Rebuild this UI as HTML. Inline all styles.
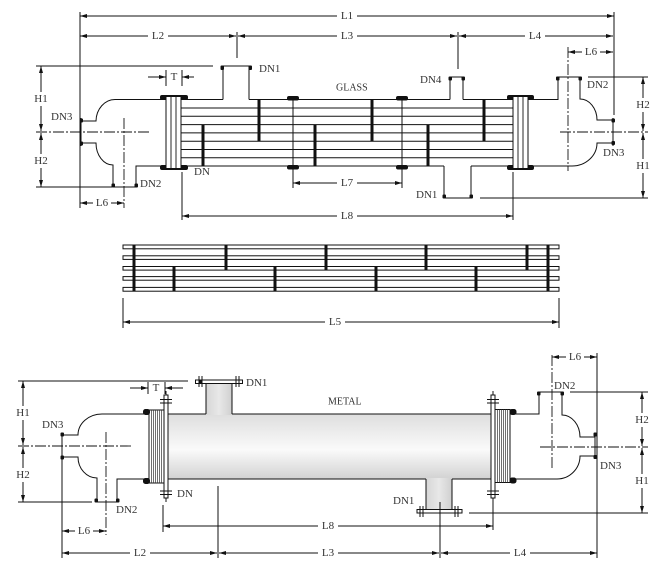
<!DOCTYPE html>
<html><head><meta charset="utf-8"><style>
html,body{margin:0;padding:0;background:#fff;}
svg{display:block;}
text{font-family:"Liberation Serif",serif;font-size:11px;fill:#333;}
</style></head><body>
<svg width="672" height="567" viewBox="0 0 672 567" xmlns="http://www.w3.org/2000/svg">
<defs>
<marker id="a" markerWidth="8" markerHeight="6" refX="7" refY="2" orient="auto-start-reverse" markerUnits="userSpaceOnUse"><path d="M0,0 L7,2 L0,4 z" fill="#111"/></marker>
<linearGradient id="gv" x1="0" y1="0" x2="0" y2="1">
<stop offset="0" stop-color="#dedede"/><stop offset="0.55" stop-color="#fafafa"/><stop offset="1" stop-color="#d2d2d2"/></linearGradient>
<linearGradient id="gh" x1="0" y1="0" x2="1" y2="0">
<stop offset="0" stop-color="#d6d6d6"/><stop offset="0.5" stop-color="#e8e8e8"/><stop offset="1" stop-color="#cfcfcf"/></linearGradient>
</defs>

<!-- ================= TOP VIEW (GLASS) ================= -->
<g stroke="#111" stroke-width="1" fill="none">
  <!-- extension lines -->
  <line x1="80" y1="12" x2="80" y2="208"/>
  <line x1="614" y1="12" x2="614" y2="115"/>
  <line x1="237" y1="32" x2="237" y2="58"/>
  <line x1="458" y1="32" x2="458" y2="69"/>
  <!-- L1 -->
  <line x1="80" y1="16" x2="614" y2="16" marker-start="url(#a)" marker-end="url(#a)"/>
  <!-- L2 L3 L4 -->
  <line x1="80" y1="36" x2="236" y2="36" marker-start="url(#a)" marker-end="url(#a)"/>
  <line x1="238" y1="36" x2="457" y2="36" marker-start="url(#a)" marker-end="url(#a)"/>
  <line x1="459" y1="36" x2="613" y2="36" marker-start="url(#a)" marker-end="url(#a)"/>
  <!-- L6 right -->
  <line x1="568" y1="52" x2="613" y2="52" marker-start="url(#a)" marker-end="url(#a)"/>
  <!-- H left -->
  <line x1="36" y1="66" x2="213" y2="66"/>
  <line x1="36" y1="187" x2="112" y2="187"/>
  <line x1="41" y1="66" x2="41" y2="131" marker-start="url(#a)" marker-end="url(#a)"/>
  <line x1="41" y1="133" x2="41" y2="187" marker-start="url(#a)" marker-end="url(#a)"/>
  <!-- T -->
  <line x1="148" y1="77" x2="166" y2="77" marker-end="url(#a)"/>
  <line x1="194" y1="77" x2="182" y2="77" marker-end="url(#a)"/>
  <line x1="166" y1="70" x2="166" y2="86"/>
  <line x1="182" y1="70" x2="182" y2="86"/>
  <!-- H right -->
  <line x1="588" y1="77" x2="648" y2="77"/>
  <line x1="480" y1="198" x2="648" y2="198"/>
  <line x1="643" y1="77" x2="643" y2="131" marker-start="url(#a)" marker-end="url(#a)"/>
  <line x1="643" y1="133" x2="643" y2="198" marker-start="url(#a)" marker-end="url(#a)"/>
  <!-- L7 -->
  <line x1="293" y1="183" x2="402" y2="183" marker-start="url(#a)" marker-end="url(#a)"/>
  <!-- L8 -->
  <line x1="182" y1="172" x2="182" y2="220"/>
  <line x1="513" y1="172" x2="513" y2="220"/>
  <line x1="182" y1="216" x2="513" y2="216" marker-start="url(#a)" marker-end="url(#a)"/>
  <!-- L6 left -->
  <line x1="80" y1="203" x2="124" y2="203" marker-start="url(#a)" marker-end="url(#a)"/>
  <!-- centerlines -->
  <g stroke-dasharray="11 2 2 2" stroke-width="0.9">
    <line x1="36" y1="132" x2="150" y2="132"/>
    <line x1="124" y1="118" x2="124" y2="208"/>
    <line x1="560" y1="132" x2="648" y2="132"/>
    <line x1="568" y1="47" x2="568" y2="171"/>
  </g>

  <!-- shell -->
  <line x1="181" y1="99.5" x2="223" y2="99.5"/>
  <line x1="249" y1="99.5" x2="450" y2="99.5"/>
  <line x1="463" y1="99.5" x2="513" y2="99.5"/>
  <line x1="181" y1="166" x2="444" y2="166"/>
  <line x1="471" y1="166" x2="513" y2="166"/>
  <!-- DN1 top nozzle -->
  <path d="M223,99.5 V66 H249 V99.5"/>
  <!-- DN4 -->
  <path d="M450,99.5 V77 H463 V99.5"/>
  <!-- DN1 bottom -->
  <path d="M444,166 V198 H471 V166"/>
  <!-- tubes -->
  <g stroke-width="1">
    <line x1="181" y1="108" x2="513" y2="108"/>
    <line x1="181" y1="116.3" x2="513" y2="116.3"/>
    <line x1="181" y1="124.6" x2="513" y2="124.6"/>
    <line x1="181" y1="132.9" x2="513" y2="132.9"/>
    <line x1="181" y1="141.2" x2="513" y2="141.2"/>
    <line x1="181" y1="149.5" x2="513" y2="149.5"/>
    <line x1="181" y1="157.8" x2="513" y2="157.8"/>
  </g>
  <!-- baffles -->
  <g stroke-width="3">
    <line x1="203" y1="124.6" x2="203" y2="166"/>
    <line x1="259" y1="99.5" x2="259" y2="141.2"/>
    <line x1="315" y1="124.6" x2="315" y2="166"/>
    <line x1="372" y1="99.5" x2="372" y2="141.2"/>
    <line x1="428" y1="124.6" x2="428" y2="166"/>
    <line x1="484" y1="99.5" x2="484" y2="141.2"/>
  </g>
  <!-- support rings -->
  <line x1="293" y1="96" x2="293" y2="188"/>
  <line x1="402" y1="96" x2="402" y2="188"/>

  <!-- left head -->
  <path d="M166,99.5 H115 A19,22 0 0 0 96,121 H81"/>
  <line x1="81" y1="118" x2="81" y2="146"/>
  <path d="M81,143 H96 A17,22 0 0 0 113,165 V187 H136 V166 H166"/>
  <!-- right head -->
  <path d="M528,99.5 H558 V77 H580 V99 A17,21 0 0 1 597,120 H613"/>
  <line x1="613" y1="118" x2="613" y2="146"/>
  <path d="M613,143 H597 A25,23 0 0 1 572,166 H528"/>
</g>
<!-- blobs top view -->
<g fill="#111">
  <rect x="287" y="96" width="12" height="4.5" rx="2"/>
  <rect x="287" y="165" width="12" height="4.5" rx="2"/>
  <rect x="396" y="96" width="12" height="4.5" rx="2"/>
  <rect x="396" y="165" width="12" height="4.5" rx="2"/>
  <rect x="160" y="95" width="28" height="5" rx="2"/>
  <rect x="160" y="165" width="28" height="5" rx="2"/>
  <rect x="507" y="95" width="27" height="5" rx="2"/>
  <rect x="507" y="165" width="27" height="5" rx="2"/>
  <rect x="220.5" y="65.5" width="3.5" height="4.5" rx="1"/>
  <rect x="248.5" y="65.5" width="3.5" height="4.5" rx="1"/>
  <rect x="448.5" y="76.5" width="3.5" height="4" rx="1"/>
  <rect x="461.5" y="76.5" width="3.5" height="4" rx="1"/>
  <rect x="442.5" y="194.5" width="3.5" height="4" rx="1"/>
  <rect x="469.5" y="194.5" width="3.5" height="4" rx="1"/>
  <rect x="556" y="76.5" width="3.5" height="4" rx="1"/>
  <rect x="578.5" y="76.5" width="3.5" height="4" rx="1"/>
  <rect x="611.5" y="118.5" width="3.5" height="4" rx="1"/>
  <rect x="611.5" y="141" width="3.5" height="4" rx="1"/>
  <rect x="79.5" y="118.5" width="3.5" height="4" rx="1"/>
  <rect x="79.5" y="141.5" width="3.5" height="4" rx="1"/>
  <rect x="111.5" y="183.5" width="3.5" height="4" rx="1"/>
  <rect x="134.5" y="183.5" width="3.5" height="4" rx="1"/>
</g>
<!-- tubesheets top view -->
<g stroke="#111" stroke-width="1" fill="#fff">
  <rect x="166" y="96.5" width="15" height="72"/>
  <rect x="513" y="96.5" width="15" height="72"/>
</g>
<g stroke="#111" stroke-width="0.9">
  <line x1="171" y1="96.5" x2="171" y2="168.5"/>
  <line x1="176" y1="96.5" x2="176" y2="168.5"/>
  <line x1="518" y1="96.5" x2="518" y2="168.5"/>
  <line x1="523" y1="96.5" x2="523" y2="168.5"/>
</g>

<!-- labels top view (with white gaps) -->
<g fill="#fff">
  <rect x="337" y="10" width="20" height="12"/>
  <rect x="148" y="30" width="20" height="12"/>
  <rect x="337" y="30" width="20" height="12"/>
  <rect x="525" y="30" width="20" height="12"/>
  <rect x="582" y="46" width="18" height="12"/>
  <rect x="93" y="197" width="18" height="12"/>
  <rect x="33" y="92" width="16" height="14"/>
  <rect x="33" y="154" width="16" height="14"/>
  <rect x="635" y="98" width="16" height="14"/>
  <rect x="635" y="159" width="16" height="14"/>
  <rect x="337" y="177" width="20" height="12"/>
  <rect x="337" y="210" width="20" height="12"/>
</g>
<g text-anchor="middle" dominant-baseline="central">
  <text x="347" y="16">L1</text>
  <text x="158" y="36">L2</text>
  <text x="347" y="36">L3</text>
  <text x="535" y="36">L4</text>
  <text x="591" y="52">L6</text>
  <text x="102" y="203">L6</text>
  <text x="41" y="99">H1</text>
  <text x="41" y="161">H2</text>
  <text x="643" y="105">H2</text>
  <text x="643" y="166">H1</text>
  <text x="347" y="183">L7</text>
  <text x="347" y="216">L8</text>
  <text x="174" y="77">T</text>
</g>
<g dominant-baseline="central">
  <text x="259" y="69">DN1</text>
  <text x="51" y="117">DN3</text>
  <text x="140" y="184">DN2</text>
  <text x="194" y="172">DN</text>
  <text x="336" y="88" style="font-size:10px">GLASS</text>
  <text x="420" y="80">DN4</text>
  <text x="587" y="85">DN2</text>
  <text x="603" y="153">DN3</text>
  <text x="416" y="195">DN1</text>
</g>

<!-- ================= BUNDLE ================= -->
<g stroke="#111" stroke-width="1" fill="#fff">
  <rect x="123" y="245" width="436" height="3.8"/>
  <rect x="123" y="255.8" width="436" height="3.6"/>
  <rect x="123" y="266.5" width="436" height="3.6"/>
  <rect x="123" y="276.6" width="436" height="3.6"/>
  <rect x="123" y="287.4" width="436" height="3.8"/>
</g>
<g stroke="#111" stroke-width="3">
  <line x1="226" y1="245" x2="226" y2="270"/>
  <line x1="326" y1="245" x2="326" y2="270"/>
  <line x1="426" y1="245" x2="426" y2="270"/>
  <line x1="527" y1="245" x2="527" y2="270"/>
  <line x1="174" y1="266.5" x2="174" y2="291.2"/>
  <line x1="275" y1="266.5" x2="275" y2="291.2"/>
  <line x1="376" y1="266.5" x2="376" y2="291.2"/>
  <line x1="476" y1="266.5" x2="476" y2="291.2"/>
  <line x1="134" y1="245" x2="134" y2="291.2"/>
  <line x1="548" y1="245" x2="548" y2="291.2"/>
</g>
<g stroke="#111" stroke-width="1">
  <line x1="123" y1="298" x2="123" y2="328"/>
  <line x1="559" y1="298" x2="559" y2="328"/>
  <line x1="123" y1="322" x2="559" y2="322" marker-start="url(#a)" marker-end="url(#a)"/>
</g>
<rect x="325" y="316" width="20" height="12" fill="#fff"/>
<text x="335" y="322" text-anchor="middle" dominant-baseline="central">L5</text>

<!-- ================= BOTTOM VIEW (METAL) ================= -->
<!-- fills -->
<rect x="168" y="414" width="323" height="65" fill="url(#gv)"/>
<rect x="206" y="381" width="26" height="34" fill="url(#gh)"/>
<rect x="426" y="478" width="26" height="35" fill="url(#gh)"/>
<g stroke="#111" stroke-width="1" fill="none">
  <!-- shell outline -->
  <line x1="168" y1="414" x2="206" y2="414"/>
  <line x1="232" y1="414" x2="491" y2="414"/>
  <line x1="168" y1="479" x2="426" y2="479"/>
  <line x1="452" y1="479" x2="491" y2="479"/>
  <line x1="206" y1="381" x2="206" y2="414"/>
  <line x1="232" y1="381" x2="232" y2="414"/>
  <line x1="426" y1="479" x2="426" y2="513"/>
  <line x1="452" y1="479" x2="452" y2="513"/>
  <!-- nozzle flanges -->
  <rect x="195.5" y="380" width="47" height="3.5" fill="#fff"/>
  <rect x="195.5" y="380" width="47" height="3.5"/>
  <rect x="417" y="509.5" width="45" height="3.5" fill="#fff"/>
  <line x1="199" y1="376" x2="199" y2="387"/><line x1="202" y1="376" x2="202" y2="387"/>
  <line x1="236" y1="376" x2="236" y2="387"/><line x1="239" y1="376" x2="239" y2="387"/>
  <line x1="420" y1="506" x2="420" y2="517"/><line x1="423" y1="506" x2="423" y2="517"/>
  <line x1="455" y1="506" x2="455" y2="517"/><line x1="458" y1="506" x2="458" y2="517"/>

  <!-- flange plates -->
  <rect x="164" y="395" width="4" height="103" fill="#fff"/>
  <rect x="491" y="395" width="4" height="103" fill="#fff"/>
  <line x1="160" y1="399.5" x2="172" y2="399.5"/><line x1="160" y1="403" x2="172" y2="403"/>
  <line x1="160" y1="491" x2="172" y2="491"/><line x1="160" y1="494.5" x2="172" y2="494.5"/>
  <line x1="487" y1="399.5" x2="499" y2="399.5"/><line x1="487" y1="403" x2="499" y2="403"/>
  <line x1="487" y1="491" x2="499" y2="491"/><line x1="487" y1="494.5" x2="499" y2="494.5"/>
  <line x1="166" y1="391" x2="166" y2="395"/><line x1="166" y1="498" x2="166" y2="502"/>
  <line x1="493" y1="391" x2="493" y2="395"/><line x1="493" y1="498" x2="493" y2="502"/>

  <!-- tubesheets -->
  <rect x="149" y="410" width="15" height="73" fill="#fff"/>
  <rect x="495" y="409.5" width="15" height="73" fill="#fff"/>

  <!-- left head -->
  <path d="M149,414 H102 A24,21 0 0 0 78,435 H62"/>
  <line x1="62" y1="433" x2="62" y2="459"/>
  <path d="M62,457 H78 A19,21 0 0 0 97,478 V502 H117 V479 H149"/>
  <!-- right head -->
  <path d="M510,414 H539 V392 H562 V415 A18,22 0 0 1 580,437 H595"/>
  <line x1="595" y1="433" x2="595" y2="459"/>
  <path d="M595,456 H580 A23,23 0 0 1 557,479 H510"/>

  <!-- dimension lines -->
  <line x1="18" y1="381" x2="188" y2="381"/>
  <line x1="18" y1="502" x2="92" y2="502"/>
  <line x1="23" y1="381" x2="23" y2="445" marker-start="url(#a)" marker-end="url(#a)"/>
  <line x1="23" y1="447" x2="23" y2="502" marker-start="url(#a)" marker-end="url(#a)"/>
  <!-- T -->
  <line x1="130" y1="388" x2="148" y2="388" marker-end="url(#a)"/>
  <line x1="183" y1="388" x2="165" y2="388" marker-end="url(#a)"/>
  <line x1="148" y1="382" x2="148" y2="394"/>
  <line x1="165" y1="382" x2="165" y2="394"/>
  <!-- H right -->
  <line x1="570" y1="392" x2="648" y2="392"/>
  <line x1="469" y1="513" x2="648" y2="513"/>
  <line x1="642" y1="392" x2="642" y2="446" marker-start="url(#a)" marker-end="url(#a)"/>
  <line x1="642" y1="448" x2="642" y2="513" marker-start="url(#a)" marker-end="url(#a)"/>
  <!-- extensions -->
  <line x1="62" y1="459" x2="62" y2="558"/>
  <line x1="597" y1="353" x2="597" y2="558"/>
  <line x1="163" y1="505" x2="163" y2="532"/>
  <line x1="493" y1="500" x2="493" y2="530"/>
  <line x1="218" y1="486" x2="218" y2="558"/>
  <line x1="440" y1="502" x2="440" y2="558"/>
  <!-- L6 -->
  <line x1="62" y1="531" x2="106" y2="531" marker-start="url(#a)" marker-end="url(#a)"/>
  <line x1="552" y1="357" x2="597" y2="357" marker-start="url(#a)" marker-end="url(#a)"/>
  <!-- L8 -->
  <line x1="163" y1="526" x2="493" y2="526" marker-start="url(#a)" marker-end="url(#a)"/>
  <!-- L2 L3 L4 -->
  <line x1="62" y1="553" x2="217" y2="553" marker-start="url(#a)" marker-end="url(#a)"/>
  <line x1="219" y1="553" x2="439" y2="553" marker-start="url(#a)" marker-end="url(#a)"/>
  <line x1="441" y1="553" x2="597" y2="553" marker-start="url(#a)" marker-end="url(#a)"/>
  <!-- centerlines -->
  <g stroke-dasharray="11 2 2 2" stroke-width="0.9">
    <line x1="18" y1="446" x2="133" y2="446"/>
    <line x1="106" y1="432" x2="106" y2="535"/>
    <line x1="540" y1="447" x2="648" y2="447"/>
    <line x1="552" y1="355" x2="552" y2="468"/>
  </g>
</g>
<!-- hatch lines -->
<g stroke="#333" stroke-width="0.7">
  <line x1="151.5" y1="410" x2="151.5" y2="483"/><line x1="153.5" y1="410" x2="153.5" y2="483"/>
  <line x1="155.5" y1="410" x2="155.5" y2="483"/><line x1="157.5" y1="410" x2="157.5" y2="483"/>
  <line x1="159.5" y1="410" x2="159.5" y2="483"/><line x1="161.5" y1="410" x2="161.5" y2="483"/>
  <line x1="497.5" y1="409.5" x2="497.5" y2="482.5"/><line x1="499.5" y1="409.5" x2="499.5" y2="482.5"/>
  <line x1="501.5" y1="409.5" x2="501.5" y2="482.5"/><line x1="503.5" y1="409.5" x2="503.5" y2="482.5"/>
  <line x1="505.5" y1="409.5" x2="505.5" y2="482.5"/><line x1="507.5" y1="409.5" x2="507.5" y2="482.5"/>
</g>
<rect x="417" y="509.5" width="45" height="3.5" fill="none" stroke="#111" stroke-width="1"/>
<!-- blobs bottom -->
<g fill="#111">
  <rect x="143" y="409" width="7" height="6" rx="2.5"/>
  <rect x="143" y="478" width="7" height="6" rx="2.5"/>
  <rect x="509.5" y="409" width="7" height="6" rx="2.5"/>
  <rect x="509.5" y="477.5" width="7" height="6" rx="2.5"/>
  <rect x="60.5" y="432.5" width="3.5" height="4" rx="1"/>
  <rect x="60.5" y="455.5" width="3.5" height="4" rx="1"/>
  <rect x="94.5" y="498.5" width="3.5" height="4" rx="1"/>
  <rect x="116" y="498.5" width="3.5" height="4" rx="1"/>
  <rect x="537" y="391.5" width="3.5" height="4" rx="1"/>
  <rect x="560.5" y="391.5" width="3.5" height="4" rx="1"/>
  <rect x="593.5" y="432.5" width="3.5" height="4" rx="1"/>
  <rect x="593.5" y="455" width="3.5" height="4" rx="1"/>
  <rect x="199" y="380" width="3" height="3.5"/>
</g>
<!-- labels bottom view -->
<g fill="#fff">
  <rect x="15" y="406" width="16" height="14"/>
  <rect x="15" y="468" width="16" height="14"/>
  <rect x="634" y="413" width="16" height="14"/>
  <rect x="634" y="474" width="16" height="14"/>
  <rect x="75" y="525" width="18" height="12"/>
  <rect x="566" y="351" width="18" height="12"/>
  <rect x="318" y="520" width="20" height="12"/>
  <rect x="130" y="547" width="20" height="12"/>
  <rect x="318" y="547" width="20" height="12"/>
  <rect x="510" y="547" width="20" height="12"/>
</g>
<g text-anchor="middle" dominant-baseline="central">
  <text x="23" y="413">H1</text>
  <text x="23" y="475">H2</text>
  <text x="642" y="420">H2</text>
  <text x="642" y="481">H1</text>
  <text x="84" y="531">L6</text>
  <text x="575" y="357">L6</text>
  <text x="328" y="526">L8</text>
  <text x="140" y="553">L2</text>
  <text x="328" y="553">L3</text>
  <text x="520" y="553">L4</text>
  <text x="156" y="388">T</text>
</g>
<g dominant-baseline="central">
  <text x="246" y="383">DN1</text>
  <text x="328" y="402" style="font-size:10px">METAL</text>
  <text x="42" y="425">DN3</text>
  <text x="177" y="494">DN</text>
  <text x="116" y="510">DN2</text>
  <text x="554" y="386">DN2</text>
  <text x="600" y="466">DN3</text>
  <text x="393" y="501">DN1</text>
</g>
</svg>
</body></html>
